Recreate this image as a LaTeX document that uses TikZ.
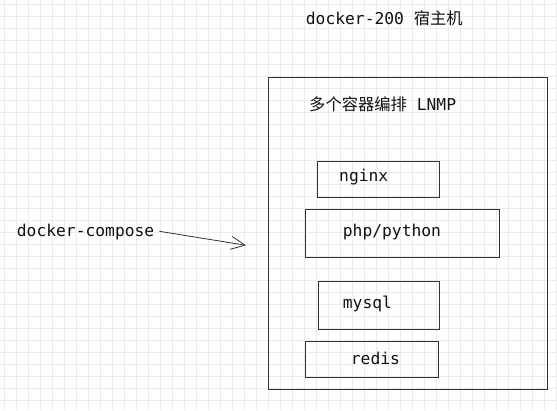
\documentclass[tikz,border=0pt]{standalone}
\usepackage{fontspec}
\usepackage{tikz}
\usepackage{xcolor}
\usetikzlibrary{arrows.meta,positioning}
\setmonofont{DejaVu Sans Mono}
\newfontfamily\cjk{Noto Sans CJK SC}
\definecolor{gridgray}{HTML}{EBEBEB}
\definecolor{ink}{HTML}{111111}
\definecolor{edge}{HTML}{333333}
\tikzset{
  gridline/.style={gridgray,line width=0.9pt},
  label/.style={font=\fontsize{16.3}{19}\selectfont\ttfamily,text=ink,
                anchor=west,inner sep=0pt},
  sketchbox/.style={draw=edge,line width=0.8pt,inner sep=0pt},
  flowarr/.style={-{Straight Barb[length=14pt,width=13pt]},line width=0.8pt,color=edge}
}

\begin{document}
\begin{tikzpicture}[x=1pt,y=-1pt]
      \useasboundingbox (0,0) rectangle (557,410);
      \fill[white] (0,0) rectangle (557,410);
      % background grid
      \foreach \x in {4,16,...,556} {
        \draw[gridline] (\x,0) -- (\x,410);
      }
      \foreach \y in {4,16,...,409} {
        \draw[gridline] (0,\y) -- (557,\y);
      }

      % host
      \node[label] (host) at (305.7,18) {docker-200 {\cjk 宿主机}};
      \node[sketchbox,minimum width=279pt,minimum height=312pt] (hostbox) at (407.7,233) {};
      \node[label] (lnmp) at (309,104) {{\cjk 多个容器编排} LNMP};

      % containers
      \node[sketchbox,minimum width=122pt,minimum height=36pt] (nginxbox) at (378.2,179) {};
      \node[label] (nginx) at (339,177) {nginx};
      \node[sketchbox,minimum width=194pt,minimum height=48pt] (phpbox) at (402.2,233.3) {};
      \node[label] (php) at (342.7,232) {php/python};
      \node[sketchbox,minimum width=121pt,minimum height=48pt] (mysqlbox) at (378.4,305.2) {};
      \node[label] (mysql) at (342.7,304) {mysql};
      \node[sketchbox,minimum width=133pt,minimum height=36pt] (redisbox) at (371.8,359.2) {};
      \node[label] (redis) at (350.7,358.5) {redis};

      % compose arrow
      \node[label] (compose) at (16.7,232.3) {docker-compose};
      \coordinate (composeend) at (246,245.3);
      \draw[flowarr] ([xshift=5pt,yshift=1pt]compose.east) -- (composeend);
    \end{tikzpicture}
\end{document}
